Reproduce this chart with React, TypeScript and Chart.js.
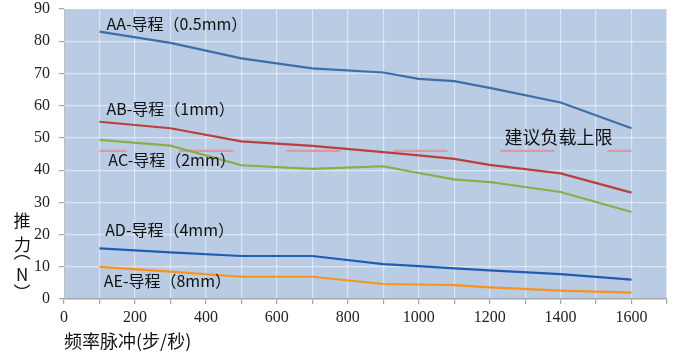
import React, { useEffect, useRef } from "react";
import { Chart, registerables } from "chart.js";

Chart.register(...registerables);

const xValues = [100, 300, 500, 700, 900, 1000, 1100, 1200, 1400, 1600];
const seriesAA = [83, 79.5, 74.7, 71.6, 70.3, 68.3, 67.6, 65.5, 61, 53];
const seriesAB = [55, 53, 48.9, 47.5, 45.6, 44.6, 43.5, 41.6, 39, 33];
const seriesAC = [49.4, 47.6, 41.5, 40.4, 41.2, 39.1, 37.1, 36.3, 33.2, 27];
const seriesAD = [15.7, 14.5, 13.35, 13.35, 10.8, 10.2, 9.5, 8.9, 7.7, 6];
const seriesAE = [10, 8.5, 6.9, 6.9, 4.65, 4.5, 4.3, 3.6, 2.6, 2];
const limitX = [100, 1600];
const limitValue = 46;

const seriesNames = ["AA-导程（0.5mm）", "AB-导程（1mm）", "AC-导程（2mm）", "AD-导程（4mm）", "AE-导程（8mm）"];
const limitLabel = "建议负载上限";
const xTitle = "频率脉冲(步/秒)";
const yTitleChars = ["推", "力", "︵", "N", "︶"];

const CJK = '"Noto Sans CJK SC", "Noto Sans", sans-serif';
const SERIF = "'Liberation Serif', 'Times New Roman', serif";

Chart.defaults.font.family = SERIF;

const toPoints = (vals: number[]) => vals.map((v, i) => ({ x: xValues[i], y: v }));

const annotPlugin = {
  id: "annot",
  beforeDraw(chart: any) {
    const { ctx, chartArea } = chart;
    ctx.save();
    ctx.fillStyle = "#b9cce4";
    ctx.fillRect(chartArea.left, chartArea.top, chartArea.right - chartArea.left, chartArea.bottom - chartArea.top);
    ctx.restore();
  },
  afterDatasetsDraw(chart: any) {
    const { ctx } = chart;
    const xs = chart.scales.x;
    const ys = chart.scales.y;
    ctx.save();
    ctx.fillStyle = "#111";
    ctx.textBaseline = "middle";
    ctx.textAlign = "left";
    ctx.font = `16px ${CJK}`;
    const anchors = [
      [120, 85.5],
      [120, 59],
      [125, 43.2],
      [116, 21.5],
      [112, 5.7],
    ];
    seriesNames.forEach((t, i) => {
      ctx.fillText(t, xs.getPixelForValue(anchors[i][0]), ys.getPixelForValue(anchors[i][1]));
    });
    ctx.font = `18px ${CJK}`;
    ctx.fillText(limitLabel, xs.getPixelForValue(1242), ys.getPixelForValue(50.3));
    ctx.restore();
  },
  afterDraw(chart: any) {
    const { ctx, chartArea } = chart;
    ctx.save();
    ctx.fillStyle = "#111";
    ctx.textBaseline = "middle";
    ctx.textAlign = "left";
    ctx.font = `18px ${CJK}`;
    ctx.fillText(xTitle, chartArea.left, 341);
    // vertical y-axis title, each glyph centred on its visual box
    ctx.font = `17px ${CJK}`;
    ctx.textBaseline = "alphabetic";
    ctx.textAlign = "left";
    const centers = [220.5, 244.5, 257.5, 274.5, 286.5];
    const cx = 22;
    yTitleChars.forEach((c, i) => {
      const m = ctx.measureText(c);
      const asc = m.actualBoundingBoxAscent;
      const desc = m.actualBoundingBoxDescent;
      const l = m.actualBoundingBoxLeft;
      const r = m.actualBoundingBoxRight;
      const bx = cx - (r - l) / 2;
      const by = centers[i] + (asc - desc) / 2;
      ctx.fillText(c, bx, by);
    });
    ctx.restore();
  },
};

export default function App() {
  const ref = useRef<HTMLCanvasElement | null>(null);
  useEffect(() => {
    if (!ref.current) return;
    const line = (data: number[], color: string) => ({
      data: toPoints(data),
      borderColor: color,
      backgroundColor: color,
      borderWidth: 2.2,
      pointRadius: 0,
      tension: 0,
      fill: false,
    });
    const chart = new Chart(ref.current, {
      type: "line",
      data: {
        datasets: [
          line(seriesAA, "#3d6fa6"),
          line(seriesAB, "#b9403d"),
          line(seriesAC, "#88ae45"),
          line(seriesAD, "#1f5cb8"),
          line(seriesAE, "#f7941d"),
          {
            data: limitX.map((x) => ({ x, y: limitValue })),
            borderColor: "#dc9a9c",
            borderWidth: 2.2,
            borderDash: [54, 53],
            borderDashOffset: 27,
            pointRadius: 0,
            fill: false,
          } as any,
        ],
      },
      options: {
        animation: false,
        responsive: false,
        layout: { padding: { top: 9, right: 33, left: 0, bottom: 0 } },
        plugins: { legend: { display: false }, tooltip: { enabled: false } },
        scales: {
          x: {
            type: "linear",
            min: 0,
            max: 1700,
            afterFit: (s: any) => {
              s.height = 62;
              s.paddingLeft = 0;
              s.paddingRight = 0;
            },
            ticks: {
              stepSize: 100,
              autoSkip: false,
              maxRotation: 0,
              padding: 4,
              color: "#222",
              font: { family: SERIF, size: 16 },
              callback: (v: any) => (Number(v) % 200 === 0 ? String(v) : ""),
            },
            grid: { color: "rgba(255,255,255,0.5)", tickColor: "#a6a6a6", tickLength: 5, lineWidth: 1.2 },
            border: { color: "#a6a6a6", width: 1.5 },
          },
          y: {
            min: 0,
            max: 90,
            afterFit: (s: any) => {
              s.width = 64;
              s.paddingTop = 0;
              s.paddingBottom = 0;
            },
            ticks: {
              stepSize: 10,
              padding: 9,
              color: "#222",
              font: { family: SERIF, size: 16 },
            },
            grid: { color: "rgba(255,255,255,0.5)", tickColor: "#a6a6a6", tickLength: 5, lineWidth: 1.2 },
            border: { color: "#bfbfbf", width: 1 },
          },
        },
      },
      plugins: [annotPlugin],
    });
    return () => chart.destroy();
  }, []);
  return (
    <div style={{ position: "fixed", left: 0, top: 0, width: 700, height: 361, background: "#fff" }}>
      <canvas ref={ref} width={700} height={361} style={{ display: "block" }} />
    </div>
  );
}
